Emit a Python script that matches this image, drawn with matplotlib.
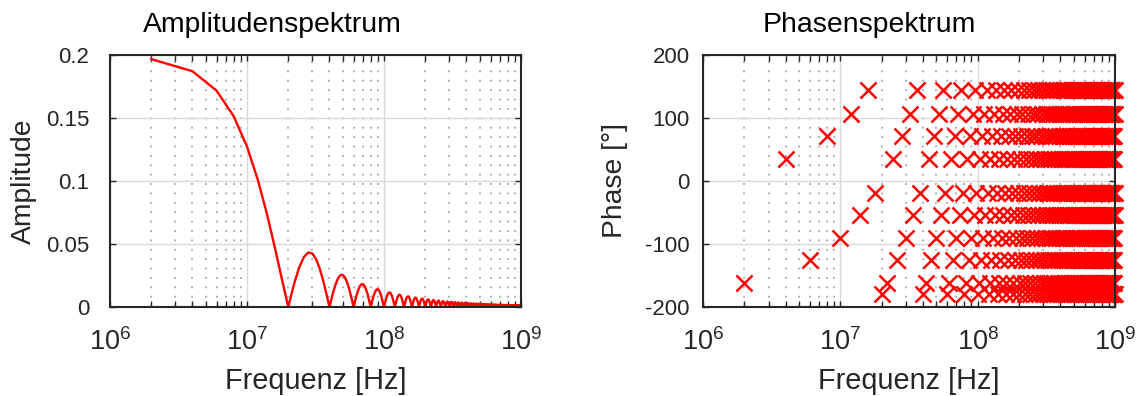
import numpy as np
import matplotlib
matplotlib.use("Agg")
import matplotlib.pyplot as plt
from matplotlib.ticker import LogLocator, NullFormatter

plt.rcParams['font.family'] = ['Liberation Sans', 'DejaVu Sans']
plt.rcParams['mathtext.fontset'] = 'custom'
plt.rcParams['mathtext.rm'] = 'Liberation Sans'
plt.rcParams['mathtext.it'] = 'Liberation Sans:italic'
plt.rcParams['mathtext.bf'] = 'Liberation Sans:bold'

# harmonic frequencies: 2 MHz spacing, 2 MHz ... 1 GHz
freq_hz = np.arange(1, 501) * 2e6

amplitude = np.array([
    0.19673, 0.18710, 0.17168, 0.15137, 0.12732, 0.10091, 0.07358, 0.04677, 0.02186, 0.0,
    0.01788, 0.03118, 0.03962, 0.04325, 0.04244, 0.03784, 0.03030, 0.02079, 0.01035, 0.0,
    0.00937, 0.01701, 0.02239, 0.02523, 0.02546, 0.02329, 0.01908, 0.01336, 0.00678, 0.0,
    0.00635, 0.01169, 0.01561, 0.01781, 0.01819, 0.01682, 0.01392, 0.00985, 0.00504, 0.0,
    0.00480, 0.00891, 0.01198, 0.01376, 0.01415, 0.01316, 0.01096, 0.00780, 0.00401, 0.0,
    0.00386, 0.00720, 0.00972, 0.01121, 0.01158, 0.01081, 0.00904, 0.00645, 0.00333, 0.0,
    0.00323, 0.00604, 0.00818, 0.00946, 0.00979, 0.00917, 0.00769, 0.00550, 0.00285, 0.0,
    0.00277, 0.00520, 0.00706, 0.00818, 0.00849, 0.00797, 0.00669, 0.00480, 0.00249, 0.0,
    0.00243, 0.00456, 0.00621, 0.00721, 0.00749, 0.00704, 0.00592, 0.00425, 0.00221, 0.0,
    0.00216, 0.00407, 0.00554, 0.00644, 0.00670, 0.00631, 0.00531, 0.00382, 0.00199, 0.0,
    0.00195, 0.00367, 0.00500, 0.00582, 0.00606, 0.00571, 0.00481, 0.00346, 0.00180, 0.0,
    0.00177, 0.00334, 0.00456, 0.00531, 0.00554, 0.00522, 0.00440, 0.00317, 0.00165, 0.0,
    0.00163, 0.00307, 0.00419, 0.00488, 0.00509, 0.00481, 0.00406, 0.00292, 0.00153, 0.0,
    0.00150, 0.00283, 0.00387, 0.00452, 0.00472, 0.00445, 0.00376, 0.00271, 0.00142, 0.0,
    0.00140, 0.00264, 0.00360, 0.00420, 0.00439, 0.00415, 0.00350, 0.00253, 0.00132, 0.0,
    0.00130, 0.00246, 0.00337, 0.00393, 0.00411, 0.00388, 0.00328, 0.00237, 0.00124, 0.0,
    0.00122, 0.00231, 0.00316, 0.00369, 0.00386, 0.00365, 0.00308, 0.00223, 0.00116, 0.0,
    0.00115, 0.00218, 0.00298, 0.00348, 0.00364, 0.00344, 0.00291, 0.00210, 0.00110, 0.0,
    0.00109, 0.00206, 0.00281, 0.00329, 0.00344, 0.00326, 0.00275, 0.00199, 0.00104, 0.0,
    0.00103, 0.00195, 0.00267, 0.00312, 0.00326, 0.00309, 0.00261, 0.00189, 0.00099, 0.0,
    0.00098, 0.00185, 0.00254, 0.00297, 0.00311, 0.00294, 0.00249, 0.00180, 0.00094, 0.0,
    0.00093, 0.00177, 0.00242, 0.00283, 0.00296, 0.00280, 0.00237, 0.00172, 0.00090, 0.0,
    0.00089, 0.00169, 0.00231, 0.00270, 0.00283, 0.00268, 0.00227, 0.00164, 0.00086, 0.0,
    0.00085, 0.00161, 0.00221, 0.00259, 0.00271, 0.00257, 0.00217, 0.00157, 0.00082, 0.0,
    0.00082, 0.00155, 0.00212, 0.00248, 0.00260, 0.00246, 0.00209, 0.00151, 0.00079, 0.0,
    0.00078, 0.00148, 0.00204, 0.00238, 0.00250, 0.00237, 0.00200, 0.00145, 0.00076, 0.0,
    0.00075, 0.00143, 0.00196, 0.00229, 0.00240, 0.00228, 0.00193, 0.00140, 0.00073, 0.0,
    0.00073, 0.00138, 0.00189, 0.00221, 0.00231, 0.00219, 0.00186, 0.00135, 0.00071, 0.0,
    0.00070, 0.00133, 0.00182, 0.00213, 0.00223, 0.00212, 0.00179, 0.00130, 0.00068, 0.0,
    0.00068, 0.00128, 0.00176, 0.00206, 0.00216, 0.00205, 0.00173, 0.00126, 0.00066, 0.0,
    0.00065, 0.00124, 0.00170, 0.00199, 0.00209, 0.00198, 0.00168, 0.00121, 0.00064, 0.0,
    0.00063, 0.00120, 0.00165, 0.00193, 0.00202, 0.00192, 0.00162, 0.00118, 0.00062, 0.0,
    0.00061, 0.00116, 0.00159, 0.00187, 0.00196, 0.00186, 0.00158, 0.00114, 0.00060, 0.0,
    0.00059, 0.00113, 0.00155, 0.00181, 0.00190, 0.00180, 0.00153, 0.00111, 0.00058, 0.0,
    0.00058, 0.00109, 0.00150, 0.00176, 0.00185, 0.00175, 0.00148, 0.00108, 0.00056, 0.0,
    0.00056, 0.00106, 0.00146, 0.00171, 0.00179, 0.00170, 0.00144, 0.00105, 0.00055, 0.0,
    0.00054, 0.00103, 0.00142, 0.00166, 0.00174, 0.00165, 0.00140, 0.00102, 0.00053, 0.0,
    0.00053, 0.00101, 0.00138, 0.00162, 0.00170, 0.00161, 0.00137, 0.00099, 0.00052, 0.0,
    0.00052, 0.00098, 0.00134, 0.00158, 0.00165, 0.00157, 0.00133, 0.00096, 0.00051, 0.0,
    0.00050, 0.00095, 0.00131, 0.00154, 0.00161, 0.00153, 0.00130, 0.00094, 0.00049, 0.0,
    0.00049, 0.00093, 0.00128, 0.00150, 0.00157, 0.00149, 0.00127, 0.00092, 0.00048, 0.0,
    0.00048, 0.00091, 0.00125, 0.00146, 0.00153, 0.00146, 0.00124, 0.00090, 0.00047, 0.0,
    0.00047, 0.00089, 0.00122, 0.00143, 0.00150, 0.00142, 0.00121, 0.00087, 0.00046, 0.0,
    0.00046, 0.00087, 0.00119, 0.00140, 0.00146, 0.00139, 0.00118, 0.00085, 0.00045, 0.0,
    0.00045, 0.00085, 0.00116, 0.00136, 0.00143, 0.00136, 0.00115, 0.00084, 0.00044, 0.0,
    0.00044, 0.00083, 0.00114, 0.00133, 0.00140, 0.00133, 0.00113, 0.00082, 0.00043, 0.0,
    0.00043, 0.00081, 0.00111, 0.00130, 0.00137, 0.00130, 0.00110, 0.00080, 0.00042, 0.0,
    0.00042, 0.00079, 0.00109, 0.00128, 0.00134, 0.00127, 0.00108, 0.00078, 0.00041, 0.0,
    0.00041, 0.00078, 0.00107, 0.00125, 0.00131, 0.00125, 0.00106, 0.00077, 0.00040, 0.0,
    0.00040, 0.00076, 0.00104, 0.00123, 0.00129, 0.00122, 0.00104, 0.00075, 0.00039, 0.0,
])

phase_deg = np.array([
    -162, 35, -126, 71, -91, 107, -54, 144, -19, -180,
    -162, 35, -126, 71, -91, 107, -54, 144, -19, -180,
    -162, 35, -126, 71, -91, 107, -54, 144, -19, -180,
    -162, 35, -126, 71, -91, 107, -54, 144, -19, -180,
    -162, 35, -126, 71, -91, 107, -54, 144, -19, -180,
    -162, 35, -126, 71, -91, 107, -54, 144, -19, -180,
    -162, 35, -126, 71, -91, 107, -54, 144, -19, -180,
    -162, 35, -126, 71, -91, 107, -54, 144, -19, -180,
    -162, 35, -126, 71, -91, 107, -54, 144, -19, -180,
    -162, 35, -126, 71, -91, 107, -54, 144, -19, -180,
    -162, 35, -126, 71, -91, 107, -54, 144, -19, -180,
    -162, 35, -126, 71, -91, 107, -54, 144, -19, -180,
    -162, 35, -126, 71, -91, 107, -54, 144, -19, -180,
    -162, 35, -126, 71, -91, 107, -54, 144, -19, -180,
    -162, 35, -126, 71, -91, 107, -54, 144, -19, -180,
    -162, 35, -126, 71, -91, 107, -54, 144, -19, -180,
    -162, 35, -126, 71, -91, 107, -54, 144, -19, -180,
    -162, 35, -126, 71, -91, 107, -54, 144, -19, -180,
    -162, 35, -126, 71, -91, 107, -54, 144, -19, -180,
    -162, 35, -126, 71, -91, 107, -54, 144, -19, -180,
    -162, 35, -126, 71, -91, 107, -54, 144, -19, -180,
    -162, 35, -126, 71, -91, 107, -54, 144, -19, -180,
    -162, 35, -126, 71, -91, 107, -54, 144, -19, -180,
    -162, 35, -126, 71, -91, 107, -54, 144, -19, -180,
    -162, 35, -126, 71, -91, 107, -54, 144, -19, -180,
    -162, 35, -126, 71, -91, 107, -54, 144, -19, -180,
    -162, 35, -126, 71, -91, 107, -54, 144, -19, -180,
    -162, 35, -126, 71, -91, 107, -54, 144, -19, -180,
    -162, 35, -126, 71, -91, 107, -54, 144, -19, -180,
    -162, 35, -126, 71, -91, 107, -54, 144, -19, -180,
    -162, 35, -126, 71, -91, 107, -54, 144, -19, -180,
    -162, 35, -126, 71, -91, 107, -54, 144, -19, -180,
    -162, 35, -126, 71, -91, 107, -54, 144, -19, -180,
    -162, 35, -126, 71, -91, 107, -54, 144, -19, -180,
    -162, 35, -126, 71, -91, 107, -54, 144, -19, -180,
    -162, 35, -126, 71, -91, 107, -54, 144, -19, -180,
    -162, 35, -126, 71, -91, 107, -54, 144, -19, -180,
    -162, 35, -126, 71, -91, 107, -54, 144, -19, -180,
    -162, 35, -126, 71, -91, 107, -54, 144, -19, -180,
    -162, 35, -126, 71, -91, 107, -54, 144, -19, -180,
    -162, 35, -126, 71, -91, 107, -54, 144, -19, -180,
    -162, 35, -126, 71, -91, 107, -54, 144, -19, -180,
    -162, 35, -126, 71, -91, 107, -54, 144, -19, -180,
    -162, 35, -126, 71, -91, 107, -54, 144, -19, -180,
    -162, 35, -126, 71, -91, 107, -54, 144, -19, -180,
    -162, 35, -126, 71, -91, 107, -54, 144, -19, -180,
    -162, 35, -126, 71, -91, 107, -54, 144, -19, -180,
    -162, 35, -126, 71, -91, 107, -54, 144, -19, -180,
    -162, 35, -126, 71, -91, 107, -54, 144, -19, -180,
    -162, 35, -126, 71, -91, 107, -54, 144, -19, -180,
])

x_ticks = [1e6, 1e7, 1e8, 1e9]
x_ticklabels = [r'$\mathregular{10^{6}}$', r'$\mathregular{10^{7}}$',
                r'$\mathregular{10^{8}}$', r'$\mathregular{10^{9}}$']
amp_yticks = [0, 0.05, 0.1, 0.15, 0.2]
amp_yticklabels = ['0', '0.05', '0.1', '0.15', '0.2']
phase_yticks = [-200, -100, 0, 100, 200]
phase_yticklabels = ['-200', '-100', '0', '100', '200']

DARK = '#262626'
W, H = 1138, 396

fig = plt.figure(figsize=(W / 100, H / 100), dpi=100)
ax1 = fig.add_axes([110 / W, 1 - 307 / H, 411 / W, 252 / H])
ax2 = fig.add_axes([703 / W, 1 - 307 / H, 412 / W, 252 / H])


def style(ax, yticks, ylabels, ylabel, title, ypad, ylabel_x, title_x):
    ax.set_xscale('log')
    ax.set_xlim(1e6, 1e9)
    ax.set_xticks(x_ticks)
    ax.set_xticklabels(x_ticklabels)
    ax.xaxis.set_minor_locator(LogLocator(base=10, subs=np.arange(2, 10)))
    ax.xaxis.set_minor_formatter(NullFormatter())
    ax.set_ylim(yticks[0], yticks[-1])
    ax.set_yticks(yticks)
    ax.set_yticklabels(ylabels)
    ax.tick_params(which='both', direction='in', top=True, right=True,
                   color=DARK, width=1.0)
    ax.tick_params(which='major', length=4.5)
    ax.tick_params(which='minor', length=4)
    ax.tick_params(axis='x', which='major', labelsize=19.5, pad=15, labelcolor=DARK)
    ax.tick_params(axis='y', which='major', labelsize=16, pad=ypad, labelcolor=DARK)
    ax.grid(True, which='major', color='#d9d9d9', lw=1.0, ls='-')
    ax.grid(True, axis='x', which='minor', color='#a8a8a8', lw=1.3, ls=(0, (1.0, 4.2)))
    ax.set_axisbelow(True)
    for s in ax.spines.values():
        s.set_color(DARK)
        s.set_linewidth(1.5)
    ax.set_xlabel('Frequenz [Hz]', fontsize=20.8, color=DARK, va='baseline')
    ax.xaxis.set_label_coords(0.5, (307 - 389) / 252)
    ax.set_ylabel(ylabel, fontsize=20.3, color=DARK, va='center')
    ax.yaxis.set_label_coords(ylabel_x, 0.5)
    ax.set_title(title, fontsize=20.4, color='black', x=title_x,
                 y=(307 - 31.7) / 252, pad=0)


ax1.plot(freq_hz, amplitude, color='red', lw=1.7)
style(ax1, amp_yticks, amp_yticklabels, 'Amplitude', 'Amplitudenspektrum',
      15, -0.209, (272 - 110) / 411)

ax2.plot(freq_hz, phase_deg, ls='none', marker='x', color='red', ms=11.5, mew=1.8,
         clip_on=False)
style(ax2, phase_yticks, phase_yticklabels, 'Phase [°]', 'Phasenspektrum',
      9.5, -0.2136, (869 - 703) / 412)

fig.savefig('out.png', dpi=100)
